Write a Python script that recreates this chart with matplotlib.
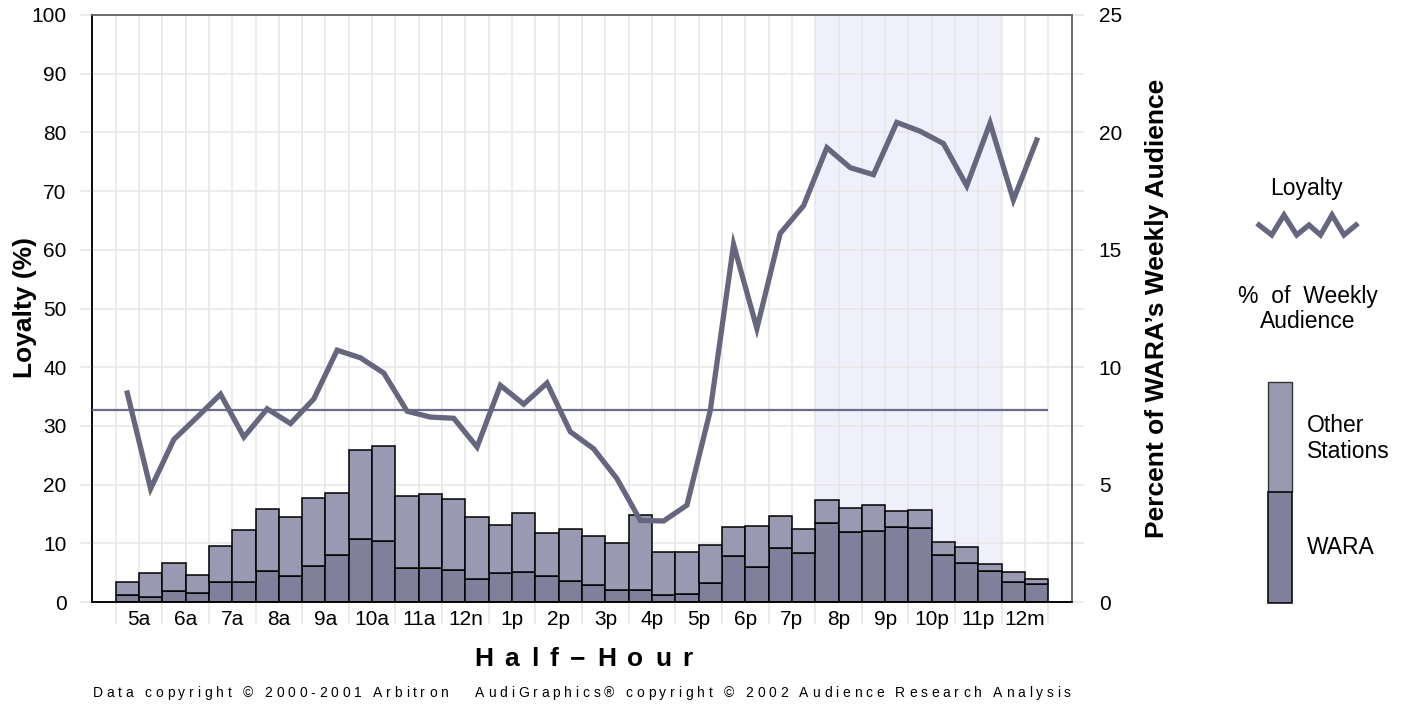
import matplotlib
matplotlib.use("Agg")
import matplotlib.pyplot as plt
from matplotlib.font_manager import FontProperties
from matplotlib.patches import Rectangle
from matplotlib.lines import Line2D
import numpy as np

plt.rcParams['font.family'] = ['Liberation Sans', 'DejaVu Sans']

# ---------------- data ----------------
hour_labels = ["5a", "6a", "7a", "8a", "9a", "10a", "11a", "12n", "1p", "2p",
               "3p", "4p", "5p", "6p", "7p", "8p", "9p", "10p", "11p", "12m"]

loyalty = [35.6, 19.3, 27.7, 31.5, 35.4, 28.1, 32.9, 30.4, 34.6, 42.9,
           41.6, 39.0, 32.5, 31.5, 31.3, 26.4, 36.9, 33.7, 37.3, 29.0,
           26.1, 21.0, 13.9, 13.8, 16.5, 32.6, 60.9, 46.6, 62.8, 67.5,
           77.4, 74.0, 72.8, 81.7, 80.2, 78.1, 70.9, 81.6, 68.5, 78.7]

wara_pct = [0.31, 0.23, 0.46, 0.38, 0.86, 0.86, 1.31, 1.09, 1.54, 2.01,
            2.68, 2.59, 1.46, 1.46, 1.37, 0.96, 1.23, 1.29, 1.10, 0.90,
            0.73, 0.53, 0.52, 0.31, 0.35, 0.80, 1.97, 1.50, 2.31, 2.08,
            3.35, 2.96, 3.02, 3.18, 3.15, 2.00, 1.67, 1.33, 0.87, 0.78]

other_pct = [0.53, 1.01, 1.18, 0.78, 1.53, 2.20, 2.66, 2.53, 2.90, 2.63,
             3.78, 4.07, 3.04, 3.16, 3.00, 2.68, 2.06, 2.50, 1.82, 2.20,
             2.10, 1.99, 3.17, 1.84, 1.77, 1.64, 1.23, 1.73, 1.36, 1.01,
             0.98, 1.05, 1.12, 0.68, 0.76, 0.55, 0.68, 0.30, 0.40, 0.19]

average_loyalty = 32.7
highlight_first, highlight_last = 30, 37   # 8p .. 11:30p half-hours

# ---------------- style ----------------
C_OTHER = "#9999b2"
C_WARA = "#80809a"
C_LINE = "#66667f"
C_AVG = "#6c6c8a"
C_SHADE = "#f0f0fc"
C_GRID = "#e6e6e6"

W, H = 1413, 708
fig = plt.figure(figsize=(W / 100, H / 100), dpi=100)

ax_l, ax_r, ax_b, ax_t = 92.3, 1071.7, 602.0, 15.0
rect = [ax_l / W, 1 - ax_b / H, (ax_r - ax_l) / W, (ax_b - ax_t) / H]
ax2 = fig.add_axes(rect)          # bars + grid (right scale)
ax = fig.add_axes(rect, sharex=ax2)  # loyalty line (left scale)
ax.patch.set_visible(False)

n = len(loyalty)
x = np.arange(n)

ax2.set_xlim(-1.5, n + 0.5)
ax2.set_ylim(0, 25)
ax.set_ylim(0, 100)

# shading
ax2.axvspan(highlight_first - 0.5, highlight_last + 0.5, color=C_SHADE, zorder=0, lw=0)

# grid
ax2.set_yticks(np.arange(0, 26, 2.5), minor=True)
ax2.set_yticks(np.arange(0, 26, 5))
ax2.set_xticks(np.arange(-0.5, n, 2), minor=True)
ax2.set_xticks(np.arange(0.5, n, 2))
ax2.grid(True, which='both', color=C_GRID, lw=1.1, zorder=0.5)
ax2.set_axisbelow(True)

# bars
ax2.bar(x, wara_pct, width=1.0, color=C_WARA, edgecolor="black", lw=1.1, zorder=2)
ax2.bar(x, other_pct, bottom=wara_pct, width=1.0, color=C_OTHER, edgecolor="black",
        lw=1.1, zorder=2)

# average line and loyalty line
ax.plot([-1.5, n - 0.5], [average_loyalty, average_loyalty], color=C_AVG, lw=1.6,
        solid_capstyle='butt', zorder=3)
ax.plot(x, loyalty, color=C_LINE, lw=3.8, solid_joinstyle='miter', zorder=4)

# ticks
ax2.set_xticklabels(hour_labels, fontsize=15)
ax2.tick_params(axis='x', which='major', length=0, pad=6)
ax2.tick_params(axis='x', which='minor', length=16, width=1.1, color=C_GRID, direction='out')
ax2.yaxis.tick_right()
ax2.tick_params(axis='y', which='major', length=8.5, width=1.1, color=C_GRID, pad=11,
                labelsize=15)
ax2.tick_params(axis='y', which='minor', length=8.5, width=1.1, color=C_GRID)
ax2.set_yticklabels([str(v) for v in range(0, 26, 5)])

ax.set_yticks(np.arange(0, 101, 10))
ax.tick_params(axis='y', which='major', length=8.5, width=1.1, color=C_GRID, pad=10,
               labelsize=15, left=True, right=False, labelleft=True, labelright=False)
ax.tick_params(axis='x', which='both', bottom=False, labelbottom=False)

for a in (ax, ax2):
    a.spines['left'].set_color('black')
    a.spines['bottom'].set_color('black')
    a.spines['top'].set_color('#666666')
    a.spines['right'].set_color('#666666')
    for s in a.spines.values():
        s.set_linewidth(1.1)

# overlay for labels / legend / annotations in pixel coordinates
ov = fig.add_axes([0, 0, 1, 1])
ov.set_xlim(0, W)
ov.set_ylim(H, 0)
ov.axis('off')
ov.patch.set_visible(False)

ov.text(25, 308, "Loyalty (%)", fontsize=19, fontweight='bold', rotation=90,
        ha='center', va='center')
ov.text(1157, 308, "Percent of WARA\u2019s Weekly Audience", fontsize=19, fontweight='bold',
        rotation=90, ha='center', va='center')

renderer = fig.canvas.get_renderer()


def tracked(s, xl, xr, y, size, weight):
    prop = FontProperties(family='Liberation Sans', size=size, weight=weight)
    base = renderer.get_text_width_height_descent('II', prop, ismath=False)[0]
    adv = [renderer.get_text_width_height_descent('I' + c + 'I', prop, ismath=False)[0] - base
           for c in s]
    gap = (xr - xl - sum(adv)) / (len(s) - 1)
    pos = xl
    for c, a in zip(s, adv):
        if c != ' ':
            ov.text(pos, y, c, fontproperties=prop, ha='left', va='center')
        pos += a + gap


tracked("Half\u2212Hour", 474, 693, 659, 19, 'bold')
tracked("Data copyright \u00a9 2000-2001 Arbitron   AudiGraphics\u00ae copyright \u00a9 2002 Audience Research Analysis",
        92.5, 1071, 693, 10, 'normal')

# legend
ov.text(1306, 189, "Loyalty", fontsize=16.5, ha='center', va='center')
zx = [1259, 1271.7, 1284, 1296.7, 1309, 1320.5, 1332, 1344, 1356]
zy = [225, 235, 215, 235, 225, 235, 215, 235, 225]
ov.add_line(Line2D(zx, zy, color=C_LINE, lw=3.8, solid_joinstyle='miter'))
ov.text(1308, 296, "%  of  Weekly", fontsize=16.5, ha='center', va='center')
ov.text(1308, 322, "Audience", fontsize=16.5, ha='center', va='center')
ov.add_patch(Rectangle((1268, 381.7), 24.3, 110.6, facecolor=C_OTHER, edgecolor='#333333', lw=1.0))
ov.add_patch(Rectangle((1268, 492.3), 24.3, 110.4, facecolor=C_WARA, edgecolor='black', lw=1.1))
ov.text(1307, 425, "Other", fontsize=16.5, ha='left', va='center')
ov.text(1307, 452, "Stations", fontsize=16.5, ha='left', va='center')
ov.text(1307, 547, "WARA", fontsize=16.5, ha='left', va='center')

fig.savefig("out.png", dpi=100)
